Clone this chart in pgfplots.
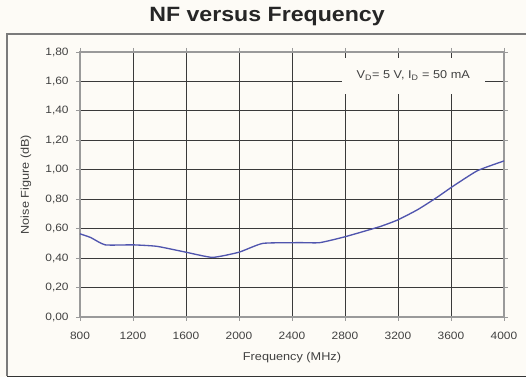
\documentclass[border=0pt]{standalone}
\usepackage{pgfplots}
\pgfplotsset{compat=1.18}
\usepackage{fontspec}
\setmainfont{Liberation Sans}[FakeStretch=1.12]
\definecolor{bg}{HTML}{FDFBF6}
\definecolor{curve}{HTML}{5055AE}
\definecolor{gridc}{HTML}{3A3A3A}
\definecolor{axc}{HTML}{9A9A9A}
\begin{document}
\begin{tikzpicture}[x=0.75pt,y=0.75pt]
\useasboundingbox (-80,-60) rectangle (446,317);
\fill[bg] (-80,-60) rectangle (446,317);
\draw[axc!80!black, line width=0.8pt] (446,283) -- (-73,283) -- (-73,-59);
\draw[black!80, line width=1pt] (-73,-59.5) -- (446,-59.5);
\node[font=\bfseries\fontsize{15.5}{17}\selectfont, text=black!85] at (187,300) {NF versus Frequency};
\begin{axis}[
  at={(0,0)}, anchor=south west,
  scale only axis, width=318pt, height=198.75pt,
  xmin=800, xmax=4000, ymin=0, ymax=1.8,
  xtick={800,1200,...,4000},
  ytick={0,0.2,...,1.8},
  yticklabel style={/pgf/number format/fixed, /pgf/number format/fixed zerofill, /pgf/number format/precision=2, /pgf/number format/use comma, xshift=-2pt},
  xticklabel style={/pgf/number format/1000 sep={}, yshift=-4.5pt},
  /pgf/number format/assume math mode=true,
  ticklabel style={font=\fontsize{8}{9}\selectfont, text=black!75},
  tick align=outside, major tick length=3pt,
  tick style={axc, line width=0.6pt},
  axis line style={axc, line width=0.8pt},
  grid=major, major grid style={gridc, line width=0.7pt},
  axis background/.style={fill=bg},
  xlabel={Frequency (MHz)}, ylabel={Noise Figure (dB)},
  label style={font=\fontsize{8.5}{10}\selectfont, text=black!75},
  xlabel style={at={(axis description cs:0.5,-0.1547)}, anchor=center},
  ylabel style={at={(axis description cs:-0.1274,0.5)}, anchor=center},
  clip=false,
]
\addplot[curve, line width=1pt, smooth, tension=0.3] coordinates {
(800,0.565) (880,0.54) (990,0.49) (1200,0.49) (1380,0.48) (1600,0.44)
(1800,0.405) (2000,0.44) (2180,0.50) (2460,0.505) (2610,0.505)
(2800,0.545) (3060,0.613) (3200,0.66) (3350,0.73) (3490,0.81)
(3610,0.885) (3800,0.994) (4000,1.06)
};
\node[fill=bg, inner sep=0pt, minimum width=107pt, minimum height=27pt, font=\fontsize{8.5}{10}\selectfont, text=black!75] at (axis cs:3315,1.64) {V\textsubscript{D}= 5 V, I\textsubscript{D} = 50 mA};
\end{axis}
\end{tikzpicture}
\end{document}
